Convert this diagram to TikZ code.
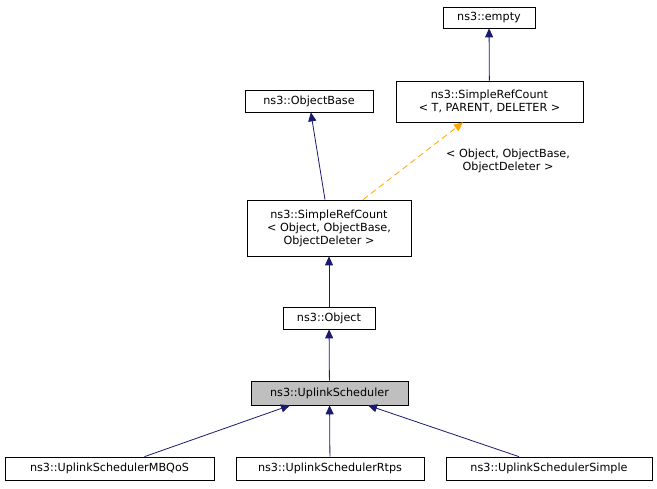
\documentclass[tikz,border=0pt]{standalone}
\usepackage{fontspec}
\setmainfont{DejaVu Sans}
\usetikzlibrary{arrows.meta}
\begin{document}
\begin{tikzpicture}[x=1pt,y=-1pt,
 box/.style={draw=black,line width=0.7pt,inner sep=0pt,font=\fontsize{11.2}{13}\selectfont,align=center},
 inh/.style={draw={rgb,255:red,25;green,25;blue,112},line width=0.8pt,-{Triangle[length=9pt,width=8pt]}},
 tpl/.style={draw={rgb,255:red,255;green,165;blue,0},dash pattern=on 6pt off 4pt,line width=0.8pt,-{Triangle[length=9pt,width=8pt]}}]
\useasboundingbox (0,0) rectangle (657,489);
\node[box,minimum width=92,minimum height=21] (empty) at (489,17.5) {ns3::empty};
\node[box,minimum width=187,minimum height=41] (srcT) at (489.5,101.5) {ns3::SimpleRefCount\\< T, PARENT, DELETER >};
\node[box,minimum width=128,minimum height=22] (ob) at (309,101) {ns3::ObjectBase};
\node[box,minimum width=164,minimum height=56] (src) at (329,228) {ns3::SimpleRefCount\\< Object, ObjectBase,\\ObjectDeleter >};
\node[box,minimum width=92,minimum height=22] (obj) at (329,318) {ns3::Object};
\node[box,fill={rgb,255:red,191;green,191;blue,191},minimum width=157,minimum height=24] (us) at (329.5,393) {ns3::UplinkScheduler};
\node[box,minimum width=209,minimum height=23] (mb) at (109.5,468.5) {ns3::UplinkSchedulerMBQoS};
\node[box,minimum width=188,minimum height=23] (rt) at (330,468.5) {ns3::UplinkSchedulerRtps};
\node[box,minimum width=206,minimum height=23] (si) at (549,468.5) {ns3::UplinkSchedulerSimple};
\draw[inh] (srcT) -- (empty);
\draw[inh] (src.north) ++(-4,0) coordinate (a) (a) -- (ob);
\draw[tpl] (src.north) ++(34,0) coordinate (b) (b) -- (srcT.south -| 463,0);
\node[font=\fontsize{11.2}{13}\selectfont,align=center] (lbl) at (508,161) {< Object, ObjectBase,\\ObjectDeleter >};
\draw[inh] (obj) -- (src);
\draw[inh] (us) -- (obj);
\draw[inh] (mb.north) ++(35,0) coordinate (c) (c) -- (us.south -| 290,0);
\draw[inh] (rt) -- (us);
\draw[inh] (si.north) ++(-30,0) coordinate (d) (d) -- (us.south -| 368,0);
\end{tikzpicture}
\end{document}
